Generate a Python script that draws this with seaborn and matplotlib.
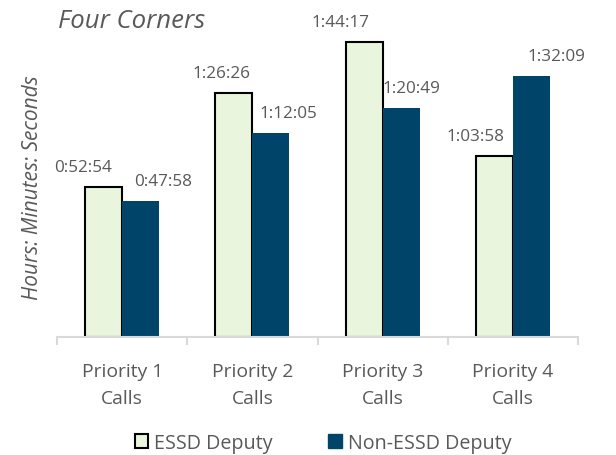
import matplotlib
matplotlib.use("Agg")
import matplotlib.pyplot as plt
import seaborn as sns
import pandas as pd
from matplotlib.patches import Patch

categories = ["Priority 1\nCalls", "Priority 2\nCalls", "Priority 3\nCalls", "Priority 4\nCalls"]
series_names = ["ESSD Deputy", "Non-ESSD Deputy"]
essd_labels = ["0:52:54", "1:26:26", "1:44:17", "1:03:58"]
non_essd_labels = ["0:47:58", "1:12:05", "1:20:49", "1:32:09"]

def to_sec(s):
    h, m, sec = s.split(":")
    return int(h) * 3600 + int(m) * 60 + int(sec)

essd_values = [to_sec(s) for s in essd_labels]
non_essd_values = [to_sec(s) for s in non_essd_labels]

# label horizontal offsets (pixels), style only
essd_dx = [-21, -12, -24, -19]
non_essd_dx = [22, 17, 10, 25]

df = pd.DataFrame({
    "cat": categories * 2,
    "series": [series_names[0]] * 4 + [series_names[1]] * 4,
    "value": essd_values + non_essd_values,
})

sns.set_theme(style="white")
plt.rcParams['font.family'] = ['Open Sans', 'DejaVu Sans']
TXT = "#595959"
GREEN = "#EAF5DD"
BLUE = "#00446A"

fig = plt.figure(figsize=(6.16, 4.56), dpi=100)
W, H = 616, 456
ax = fig.add_axes([57 / W, 1 - 338 / H, (578 - 57) / W, (338 - 8) / H])

sns.barplot(data=df, x="cat", y="value", hue="series", order=categories,
            hue_order=series_names, palette=[GREEN, BLUE], width=0.57,
            saturation=1, ax=ax, legend=False)

for p in ax.containers[0]:
    p.set_edgecolor("black")
    p.set_linewidth(1.5)
for p in ax.containers[1]:
    p.set_edgecolor(BLUE)
    p.set_linewidth(0)

for cont, labs, dxs in [(ax.containers[0], essd_labels, essd_dx),
                        (ax.containers[1], non_essd_labels, non_essd_dx)]:
    for p, lab, dx in zip(cont, labs, dxs):
        x = p.get_x() + p.get_width() / 2
        y = p.get_height()
        ax.annotate(lab, (x, y), xytext=(dx, 20), textcoords="offset pixels",
                    ha="center", va="center", fontsize=12.3, color=TXT)

ax.set_ylim(0, 7000)
ax.set_xlim(-0.5, 3.5)
ax.set_yticks([])
ax.set_xlabel("")
ax.set_ylabel("")
for s in ["top", "right", "left"]:
    ax.spines[s].set_visible(False)
ax.spines["bottom"].set_color("#D9D9D9")
ax.spines["bottom"].set_linewidth(1.5)
ax.set_xticks([0, 1, 2, 3])
ax.set_xticklabels(categories, fontsize=13.9, color=TXT, linespacing=1.62)
ax.set_xticks([-0.5, 0.5, 1.5, 2.5, 3.5], minor=True)
ax.tick_params(axis="x", which="major", length=0, pad=18)
ax.tick_params(axis="x", which="minor", length=6, width=1.5, color="#D9D9D9", bottom=True)

fig.text(58 / W, 1 - 21 / H, "Four Corners", fontsize=18.5, style="italic",
         color=TXT, ha="left", va="center")
fig.text(33 / W, 1 - 188 / H, "Hours: Minutes: Seconds", fontsize=15, style="italic",
         color=TXT, ha="center", va="center", rotation=90)

handles = [Patch(facecolor=GREEN, edgecolor="black", linewidth=1.5),
           Patch(facecolor=BLUE, edgecolor=BLUE)]
fig.legend(handles, series_names, loc="center", bbox_to_anchor=(323 / W, 1 - 444 / H),
           ncol=2, frameon=False, fontsize=14.2, labelcolor=TXT,
           handlelength=0.7, handleheight=0.7, handletextpad=0.3, columnspacing=2.8)

fig.savefig("out.png", dpi=100)
